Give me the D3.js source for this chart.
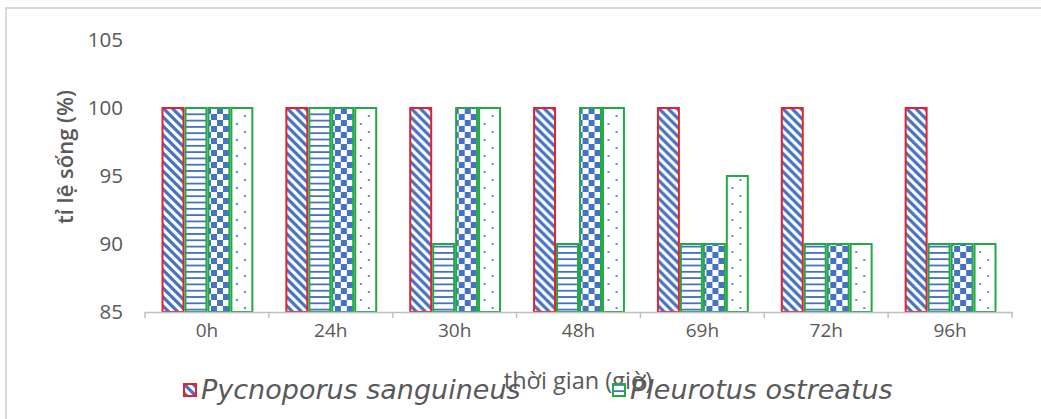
<!DOCTYPE html>
<html>
<head>
<meta charset="utf-8">
<script src="https://cdn.jsdelivr.net/npm/d3@7"></script>
<style>
  html, body { margin: 0; padding: 0; background: #fff; }
  svg { display: block; }
</style>
</head>
<body>
<svg id="chart" width="1041" height="419"></svg>
<script>
// Survival rate (%) over time, four bars per time point
const categories = ["0h", "24h", "30h", "48h", "69h", "72h", "96h"];
const series1 = [100, 100, 100, 100, 100, 100, 100]; // red, diagonal stripes
const series2 = [100, 100, 90, 90, 90, 90, 90];      // horizontal lines
const series3 = [100, 100, 100, 100, 90, 90, 90];    // checkerboard
const series4 = [100, 100, 100, 100, 95, 90, 90];    // dots
const yTicks = [85, 90, 95, 100, 105];
const legendLabels = ["Pycnoporus sanguineus", "Pleurotus ostreatus"];

const seriesList = [
  { key: "s1", values: series1, stroke: "#e8202a", fill: "url(#pDiag)" },
  { key: "s2", values: series2, stroke: "#22a845", fill: "url(#pHoriz)" },
  { key: "s3", values: series3, stroke: "#22a845", fill: "url(#pCheck)" },
  { key: "s4", values: series4, stroke: "#22a845", fill: "url(#pDots)" }
];

const blue = "#4472c4";
const grey = "#595959";
const uiFont = "'Open Sans', Lato, sans-serif";
const svg = d3.select("#chart");

// pattern fills
const defs = svg.append("defs");
const pd = defs.append("pattern").attr("id", "pDiag").attr("patternUnits", "userSpaceOnUse")
  .attr("width", 9).attr("height", 9);
pd.append("rect").attr("width", 9).attr("height", 9).attr("fill", "#fff");
pd.append("path").attr("d", "M-2,-2 L11,11 M-2,7 L2,11 M7,-2 L11,2")
  .attr("stroke", blue).attr("stroke-width", 3.2);

const ph = defs.append("pattern").attr("id", "pHoriz").attr("patternUnits", "userSpaceOnUse")
  .attr("width", 8).attr("height", 6.3);
ph.append("rect").attr("width", 8).attr("height", 6.3).attr("fill", "#fff");
ph.append("rect").attr("y", 0).attr("width", 8).attr("height", 1.8).attr("fill", blue);

const pc = defs.append("pattern").attr("id", "pCheck").attr("patternUnits", "userSpaceOnUse")
  .attr("width", 12).attr("height", 12);
pc.append("rect").attr("width", 12).attr("height", 12).attr("fill", "#fff");
pc.append("rect").attr("x", 0).attr("y", 0).attr("width", 6).attr("height", 6).attr("fill", blue);
pc.append("rect").attr("x", 6).attr("y", 6).attr("width", 6).attr("height", 6).attr("fill", blue);

const pdots = defs.append("pattern").attr("id", "pDots").attr("patternUnits", "userSpaceOnUse")
  .attr("width", 16).attr("height", 16);
pdots.append("rect").attr("width", 16).attr("height", 16).attr("fill", "#fff");
pdots.append("circle").attr("cx", 4).attr("cy", 4).attr("r", 1.1).attr("fill", blue);
pdots.append("circle").attr("cx", 12).attr("cy", 12).attr("r", 1.1).attr("fill", blue);

// outer frame (top and left edges visible)
svg.append("path").attr("d", "M6,419 L6,8 L1041,8")
  .attr("fill", "none").attr("stroke", "#d9d9d9").attr("stroke-width", 2);

const x0 = d3.scaleBand().domain(categories).range([145, 1012]).paddingInner(0).paddingOuter(0);
const bw = x0.bandwidth();
const x1 = d3.scaleBand().domain(seriesList.map(s => s.key)).range([16.5, bw - 15.5]);
const y = d3.scaleLinear().domain([85, 105]).range([312, 40]);

// y tick labels (no axis line)
svg.append("g").selectAll("text").data(yTicks).join("text")
  .attr("x", 123).attr("y", d => y(d)).attr("dy", "0.35em")
  .attr("text-anchor", "end")
  .attr("font-family", uiFont).attr("font-size", 20.5)
  .attr("fill", grey).text(d => d);

// bars
const groups = svg.append("g").selectAll("g").data(categories).join("g")
  .attr("transform", d => `translate(${x0(d)},0)`);
groups.selectAll("rect").data((c, i) => seriesList.map(s => ({ s, v: s.values[i] }))).join("rect")
  .attr("x", d => x1(d.s.key) + 1)
  .attr("width", x1.bandwidth() - 2)
  .attr("y", d => y(d.v))
  .attr("height", d => y(85) - y(d.v))
  .attr("fill", d => d.s.fill)
  .attr("stroke", d => d.s.stroke)
  .attr("stroke-width", 2);

// x axis
const xAxis = d3.axisBottom(x0).tickSize(0).tickPadding(23);
const gx = svg.append("g").attr("transform", "translate(0,312)").call(xAxis);
gx.select(".domain").attr("stroke", "#bfbfbf").attr("stroke-width", 1.5);
gx.selectAll("text").attr("font-family", uiFont).attr("font-size", 19)
  .attr("fill", grey).attr("dy", "0.1em");
// category boundary ticks
const bounds = categories.map(c => x0(c)).concat([x0.range()[1]]);
svg.append("g").selectAll("line").data(bounds).join("line")
  .attr("x1", d => d).attr("x2", d => d).attr("y1", 312).attr("y2", 318)
  .attr("stroke", "#bfbfbf").attr("stroke-width", 1.5);

// axis titles
svg.append("text")
  .attr("transform", "translate(65,157) rotate(-90)")
  .attr("text-anchor", "middle").attr("dy", "0.35em")
  .attr("font-family", uiFont).attr("font-size", 22).attr("font-weight", 600)
  .attr("fill", grey).text("tỉ lệ sống (%)");

svg.append("text")
  .attr("x", 578).attr("y", 389)
  .attr("text-anchor", "middle")
  .attr("font-family", uiFont).attr("font-size", 23.5)
  .attr("fill", grey).text("thời gian (giờ)");

// legend
const legendItems = [
  { label: legendLabels[0], x: 184, stroke: seriesList[0].stroke, fill: "url(#pDiag)" },
  { label: legendLabels[1], x: 613, stroke: seriesList[1].stroke, fill: "url(#pHoriz)" }
];
const lg = svg.append("g").selectAll("g").data(legendItems).join("g")
  .attr("transform", d => `translate(${d.x},384)`);
lg.append("rect").attr("width", 12).attr("height", 12)
  .attr("fill", d => d.fill).attr("stroke", d => d.stroke).attr("stroke-width", 2);
lg.append("text").attr("x", 17).attr("y", 15)
  .attr("font-family", "'DejaVu Sans', sans-serif").attr("font-style", "italic")
  .attr("font-size", 27).attr("fill", grey).text(d => d.label);
</script>
</body>
</html>
